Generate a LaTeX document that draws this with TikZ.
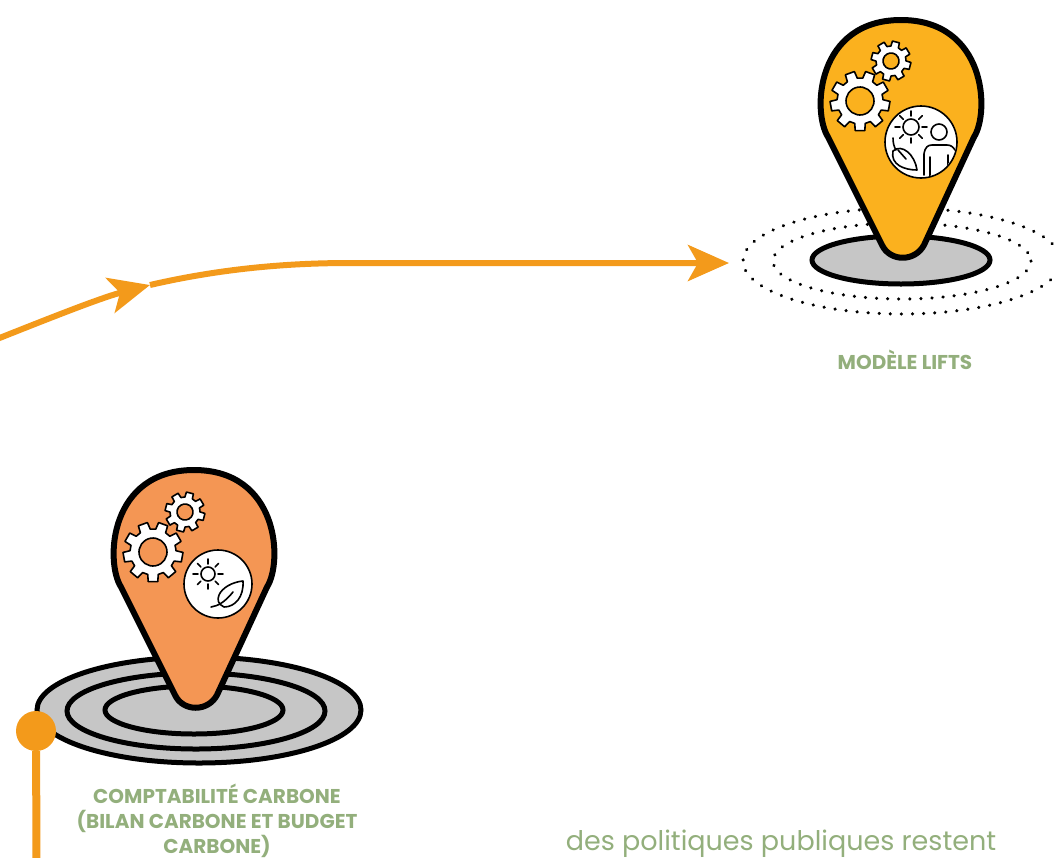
\documentclass[tikz,border=0pt]{standalone}
\usepackage{fontspec}
\setmainfont{Poppins}
\usetikzlibrary{positioning, arrows.meta}
\definecolor{flowcol}{HTML}{F39A1B}
\definecolor{pinyellow}{HTML}{FBB11E}
\definecolor{pinorange}{HTML}{F49654}
\definecolor{discgrey}{HTML}{C6C6C6}
\definecolor{labelgreen}{HTML}{93AF7C}
\tikzset{
    pinline/.style = {draw=black, line width=6pt, line join=round},
    ringline/.style = {draw=black, line width=5pt, fill=discgrey},
    dotring/.style = {draw=black, line width=3.4pt, line cap=round, dash pattern=on 0.1pt off 11pt},
    flowline/.style = {draw=flowcol, line width=6pt},
    tiplarge/.style = {-{Stealth[length=41pt, width=36pt, inset=10pt]}},
    cogline/.style = {draw=black, line width=1.6pt, fill=white, line join=round, even odd rule},
    iconline/.style = {draw=black, line width=1.6pt, line cap=round, line join=round},
    labeltext/.style = {text=labelgreen, font=\fontsize{20}{25}\selectfont\bfseries, align=center, inner sep=0pt}
}
\newcommand{\pinbody}[2]{
    \begin{scope}[shift={(#1)}]
        \path[pinline, fill=#2] (-73,37) .. controls (-89,12) and (-85,-80) .. (0,-80)
            .. controls (85,-80) and (89,12) .. (73,37) -- (23,145)
            .. controls (14,162) and (-11,162) .. (-19,145) -- cycle;
    \end{scope}
}
\newcommand{\cogwheel}[6]{
    \begin{scope}[shift={(#1)}, rotate=#6]
        \pgfmathsetmacro{\cogstep}{360/#5}
        \path[cogline] (0:#3)
            \foreach \k in {1,...,#5} {
                -- ({(\k-1)*\cogstep+0.17*\cogstep}:#3)
                -- ({(\k-1)*\cogstep+0.27*\cogstep}:#2)
                -- ({(\k-1)*\cogstep+0.73*\cogstep}:#2)
                -- ({(\k-1)*\cogstep+0.83*\cogstep}:#3)
            } -- cycle (0,0) circle (#4);
    \end{scope}
}
\begin{document}
\begin{tikzpicture}[x=1pt, y=-1pt]
    \useasboundingbox (0,0) rectangle (1054,857);
    \clip (0,0) rectangle (1054,857);

    \coordinate (flowstart) at (-3,339);
    \coordinate (flowmid) at (150,285);
    \coordinate (flowbend) at (350,263);
    \coordinate (flowend) at (729,263);
    \draw[flowline, tiplarge] (flowstart) .. controls (45,320) and (100,298) .. (flowmid);
    \draw[flowline, tiplarge] (flowmid) .. controls (215,270) and (280,263) .. (flowbend) -- (flowend);

    \draw[dotring] (902,261) ellipse [x radius=159, y radius=53];
    \draw[dotring] (902,261) ellipse [x radius=129, y radius=38];
    \draw[ringline] (901,260) ellipse [x radius=89, y radius=24];
    \pinbody{901,100}{pinyellow}
    \cogwheel{860,101}{30}{23}{14}{9}{10}
    \cogwheel{891,61}{20}{15}{8}{8}{8}
    \draw[cogline] (921,142) circle (36);
    \begin{scope}
        \clip (921,142) circle (35);
        \draw[iconline] (911,127) circle (8);
        \foreach \a in {0,45,...,315} {
            \draw[iconline] (911,127) ++(\a:11) -- ++(\a:5);
        }
        \draw[iconline] (939,132) circle (8);
        \draw[iconline] (924,175) -- (924,154) .. controls (925,147) and (928,145) .. (932,145)
            -- (947,145) .. controls (951,145) and (953,147) .. (955,150);
        \draw[iconline] (930,157) -- (930,177);
        \draw[iconline] (948,155) -- (948,172);
        \draw[iconline] (917,170) .. controls (905,170) and (890,165) .. (893,151)
            .. controls (902,143) and (915,155) .. (917,170) -- cycle;
        \draw[iconline] (893,138) .. controls (893,143) and (894,147) .. (896,150);
        \draw[iconline] (898,150) -- (906,159);
    \end{scope}

    \draw[ringline] (199,710) ellipse [x radius=162, y radius=53];
    \draw[ringline] (196,711) ellipse [x radius=129, y radius=38];
    \draw[ringline] (194,710) ellipse [x radius=89, y radius=24];
    \pinbody{194,550}{pinorange}
    \cogwheel{153,552}{30}{23}{14}{9}{10}
    \cogwheel{185,512}{20}{15}{8}{8}{8}
    \draw[cogline] (218,584) circle (34);
    \draw[iconline] (208,574) circle (7);
    \foreach \a in {0,45,...,315} {
        \draw[iconline] (208,574) ++(\a:10) -- ++(\a:5);
    }
    \draw[iconline] (243,581) .. controls (232,582) and (222,588) .. (219,595)
        .. controls (217,600) and (218,604) .. (224,607)
        .. controls (235,607) and (244,597) .. (243,581) -- cycle;
    \draw[iconline] (211,607) .. controls (218,606) and (225,602) .. (233,592);

    \node[circle, fill=flowcol, minimum size=40pt, inner sep=0pt] (startdot) at (36,731) {};
    \coordinate (dotfoot) at (36.5,860);
    \draw[draw=flowcol, line width=8pt] (startdot) -- (dotfoot);

    \node[labeltext] (liftslabel) at (905,360) {MODÈLE LIFTS};
    \node[labeltext] (carbonlabel) at (217,821) {COMPTABILITÉ CARBONE\\(BILAN CARBONE ET BUDGET\\CARBONE)};
    \node[text=labelgreen, font=\fontsize{27}{30}\selectfont, inner sep=0pt, anchor=base] (phrase) at (781,850) {des politiques publiques restent};
\end{tikzpicture}
\end{document}
